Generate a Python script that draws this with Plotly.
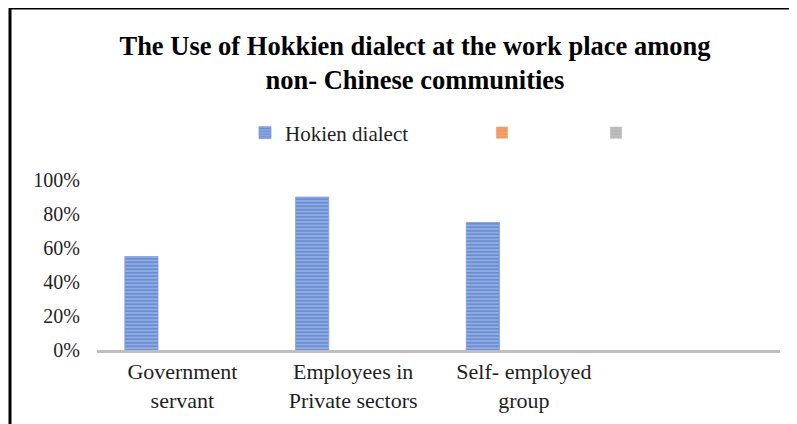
import plotly.graph_objects as go

categories = ["Government<br>servant", "Employees in<br>Private sectors", "Self- employed<br>group", " "]
hokien_values = [0.55, 0.90, 0.75, None]
series2_values = [None, None, None, None]
series3_values = [None, None, None, None]
series_names = ["Hokien dialect", "", ""]
y_tick_values = [0, 0.2, 0.4, 0.6, 0.8, 1.0]
y_tick_labels = ["0%", "20%", "40%", "60%", "80%", "100%"]

# The page body adds an 8px margin; work in reference-image pixels and shift.
OFF = 8
W, H = 797 - OFF, 424 - OFF
# reference pixel positions of the plot area
REF_L, REF_R, REF_T, REF_B = 97, 780, 180, 350
ML, MT = REF_L - OFF, REF_T - OFF
MR = W - (REF_R - OFF)
MB = H - (REF_B - OFF)

def ref_x_paper(px):
    return (px - REF_L) / (REF_R - REF_L)

def ref_y_paper(py):
    return (REF_B - py) / (REF_B - REF_T)

def ref_x_cont(px):
    return (px - OFF) / W

def ref_y_cont(py):
    return 1 - (py - OFF) / H

font_family = "Liberation Serif"
text_color = "#1f1f1f"

fig = go.Figure()
fig.add_trace(go.Bar(
    x=categories, y=hokien_values, name=series_names[0], legend="legend",
    marker=dict(color="#4472C4", line=dict(width=0.8, color="#7F9FD6"),
                pattern=dict(shape="-", fgcolor="#3E6AC0", bgcolor="#98B3E6",
                             size=3.5, solidity=0.6)),
))
fig.add_trace(go.Bar(
    x=categories, y=series2_values, name=series_names[1], legend="legend2",
    marker=dict(color="#ED7D31", pattern=dict(shape="-", fgcolor="#ED7D31", bgcolor="#F4B183", size=4, solidity=0.8)),
))
fig.add_trace(go.Bar(
    x=categories, y=series3_values, name=series_names[2], legend="legend3",
    marker=dict(color="#A5A5A5", pattern=dict(shape="-", fgcolor="#A5A5A5", bgcolor="#C9C9C9", size=4, solidity=0.8)),
))

legend_common = dict(orientation="h", xref="container", yref="container",
                     yanchor="middle", xanchor="left", bgcolor="rgba(0,0,0,0)",
                     font=dict(family=font_family, size=21, color=text_color),
                     itemwidth=30)

fig.update_layout(
    width=W, height=H,
    margin=dict(l=ML, r=MR, t=MT, b=MB, pad=0),
    paper_bgcolor="white", plot_bgcolor="white",
    barmode="group", bargap=0.28, bargroupgap=0.19,
    title=dict(text="<b>The Use of Hokkien dialect at the work place among<br>non- Chinese communities</b>",
               x=ref_x_cont(415), xanchor="center", xref="container",
               y=ref_y_cont(55), yanchor="top", yref="container",
               font=dict(family=font_family, size=26.5, color="black")),
    legend=dict(legend_common, x=ref_x_cont(245), y=ref_y_cont(133)),
    legend2=dict(legend_common, x=ref_x_cont(482), y=ref_y_cont(133)),
    legend3=dict(legend_common, x=ref_x_cont(596), y=ref_y_cont(133)),
    showlegend=True,
    xaxis=dict(type="category", showgrid=False, showline=True, linecolor="#BFBFBF",
               linewidth=2.5, ticks="", tickfont=dict(family=font_family, size=22, color=text_color),
               zeroline=False),
    yaxis=dict(range=[0, 1], tickvals=y_tick_values, ticktext=y_tick_labels,
               showgrid=False, showline=False, zeroline=False, ticks="",
               tickfont=dict(family=font_family, size=20, color=text_color), ticklabelstandoff=16),
    shapes=[
        dict(type="line", xref="paper", yref="paper",
             x0=ref_x_paper(10), x1=ref_x_paper(10), y0=ref_y_paper(7), y1=ref_y_paper(430),
             line=dict(color="black", width=3)),
        dict(type="line", xref="paper", yref="paper",
             x0=ref_x_paper(9), x1=ref_x_paper(805), y0=ref_y_paper(8), y1=ref_y_paper(8),
             line=dict(color="black", width=3)),
    ],
)

fig.write_html("out.html")
